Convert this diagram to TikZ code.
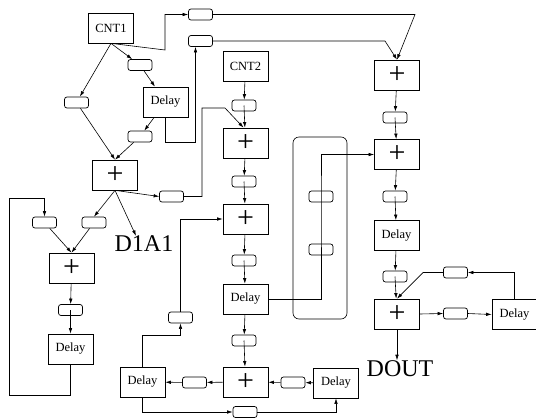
\documentclass[tikz,border=0pt]{standalone}
\usepackage{fontspec}
\setmainfont{Liberation Serif}
\usetikzlibrary{arrows.meta}
\tikzset{
  unit/.style={draw, line width=0.7pt, minimum width=45pt, minimum height=30pt, inner sep=0pt, font=\fontsize{12.5}{14}\selectfont},
  addbox/.style={unit, font=\fontsize{30}{32}\selectfont},
  reg/.style={draw, line width=0.7pt, rounded corners=2.5pt, minimum width=24pt, minimum height=11pt, inner sep=0pt},
  wire/.style={line width=0.6pt, -{Latex[length=5.5pt,width=3.5pt]}},
  plain/.style={line width=0.6pt},
  outtext/.style={inner sep=0pt, font=\fontsize{24}{26}\selectfont},
}
\begin{document}
\begin{tikzpicture}[x=1pt, y=-1pt]
  \useasboundingbox (0,0) rectangle (536,418);
  % counters and top branch
  \node[unit] (cnt1) at (111,28) {CNT1};
  \node[reg] (r1) at (200.5,14.5) {};
  \node[reg] (r2) at (200.5,41) {};
  \node[reg] (r3) at (140,65) {};
  \node[unit] (dly1) at (165.5,102) {Delay};
  \node[reg] (r4) at (76.5,102.5) {};
  \node[reg] (r5) at (140,136.5) {};
  \node[addbox] (add1) at (115,175) {+};
  \node[reg] (r6) at (171.5,196.5) {};
  \node[outtext] (d1a1) at (144,244) {D1A1};
  % middle column
  \node[unit] (cnt2) at (245.5,66) {CNT2};
  \node[reg] (r7) at (244,105.5) {};
  \node[addbox] (add2) at (245.5,143) {+};
  \node[reg] (r8) at (244,181.5) {};
  \node[addbox] (add3) at (245.5,219) {+};
  \node[reg] (r9) at (244,260.5) {};
  \node[unit] (dly2) at (245.5,299) {Delay};
  \node[reg] (r10) at (244,340.5) {};
  \node[addbox] (add4) at (245.5,382) {+};
  \node[reg] (r11) at (194.5,382.5) {};
  \node[unit] (dly3) at (142.5,382) {Delay};
  \node[reg] (r12) at (245,412) {};
  \node[reg] (r13) at (293,382.5) {};
  \node[unit] (dly4) at (336,383) {Delay};
  \node[reg] (r14) at (180.5,317.5) {};
  % left loop
  \node[reg] (r15) at (44.5,222.5) {};
  \node[reg] (r16) at (94,222.5) {};
  \node[addbox] (add5) at (71.5,268) {+};
  \node[reg] (r17) at (70.5,310) {};
  \node[unit] (dly5) at (70.5,349) {Delay};
  % right column
  \node[addbox] (add6) at (397,75) {+};
  \node[reg] (r18) at (395,117.5) {};
  \node[addbox] (add7) at (397,154.5) {+};
  \node[reg] (r19) at (395,196.5) {};
  \node[unit] (dly6) at (396.5,235.5) {Delay};
  \node[reg] (r20) at (395,276.5) {};
  \node[addbox] (add8) at (397,314) {+};
  \node[outtext] (dout) at (400,368.5) {DOUT};
  \node[reg] (r21) at (455.5,272.5) {};
  \node[reg] (r22) at (455.5,313.5) {};
  \node[unit] (dly7) at (514.5,314.5) {Delay};
  % bypass pair
  \draw[plain, rounded corners=6pt] (293,137) rectangle (347,319);
  \node[reg] (r23) at (321,196.5) {};
  \node[reg] (r24) at (321,249.5) {};

  % CNT1 fan-out
  \draw[wire] (cnt1.south) -- (r3);
  \draw[wire] (cnt1.south) -- (r4);
  \draw[wire] (cnt1.south) -- (165,50) |- (r1.west);
  \draw[wire] (r3) -- (dly1);
  \draw[wire] (dly1) -- (r5);
  \draw[wire] (r5) -- (add1.north);
  \draw[wire] (r4) -- (add1.north);
  \draw[wire] (dly1.south) -- ++(0,25) -| ([xshift=-5pt]r2.south);
  \draw[wire] (r2.east) -- (385,41) -- (add6.north);
  \draw[wire] (r1.east) -- (415,14.5) -- (add6.north);
  % add1 outputs
  \draw[wire] (add1.south) -- (r6.west);
  \draw[wire] (r6.east) -- (202,196.5) -- (202,108) -- (225,108) -- ([xshift=-2pt]add2.north);
  \draw[wire] (add1.south) -- (r16.north);
  \draw[wire] (add1.south) -- ([xshift=-8pt]d1a1.north);
  % middle chain
  \draw[wire] (cnt2) -- (r7);
  \draw[wire] (r7.center) -- (add2);
  \draw[wire] (add2) -- (r8);
  \draw[wire] (r8.center) -- (add3);
  \draw[wire] (add3) -- (r9);
  \draw[wire] (r9.center) -- (dly2);
  \draw[wire] (dly2) -- (r10);
  \draw[wire] (r10.center) -- (add4);
  \draw[wire] (add4) -- (r11);
  \draw[wire] (r11) -- (dly3);
  \draw[wire] (dly4) -- (r13);
  \draw[wire] (r13) -- (add4);
  \draw[wire] (dly3.south) |- (r12.west);
  \draw[wire] (r12.east) -| (dly4.south);
  \draw[wire] (dly3.north) -- ++(0,-31) -| (r14.south);
  \draw[wire] (r14.north) |- (add3.west);
  \draw[wire] (dly2.east) -| (r23.center) |- (add7.west);
  % left loop
  \draw[wire] (dly5.south) -- ++(0,31) -| (9,198) -| (r15.north);
  \draw[wire] (r15) -- (add5.north);
  \draw[wire] (r16) -- (add5.north);
  \draw[wire] (add5) -- (r17);
  \draw[wire] (r17.center) -- (dly5);
  % right chain
  \draw[wire] (add6) -- (r18);
  \draw[wire] (r18.center) -- (add7);
  \draw[wire] (add7) -- (r19);
  \draw[wire] (r19.center) -- (dly6);
  \draw[wire] (dly6) -- (r20);
  \draw[wire] (r20.center) -- (add8);
  \draw[wire] (add8.south) -- (add8.south |- dout.north);
  \draw[wire] (add8.east) -- (r22.west);
  \draw[wire] (r22.east) -- (dly7.west);
  \draw[wire] (dly7.north) |- (r21.east);
  \draw[wire] (r21.west) -- ++(-20,0) -- (add8.north);
\end{tikzpicture}
\end{document}
